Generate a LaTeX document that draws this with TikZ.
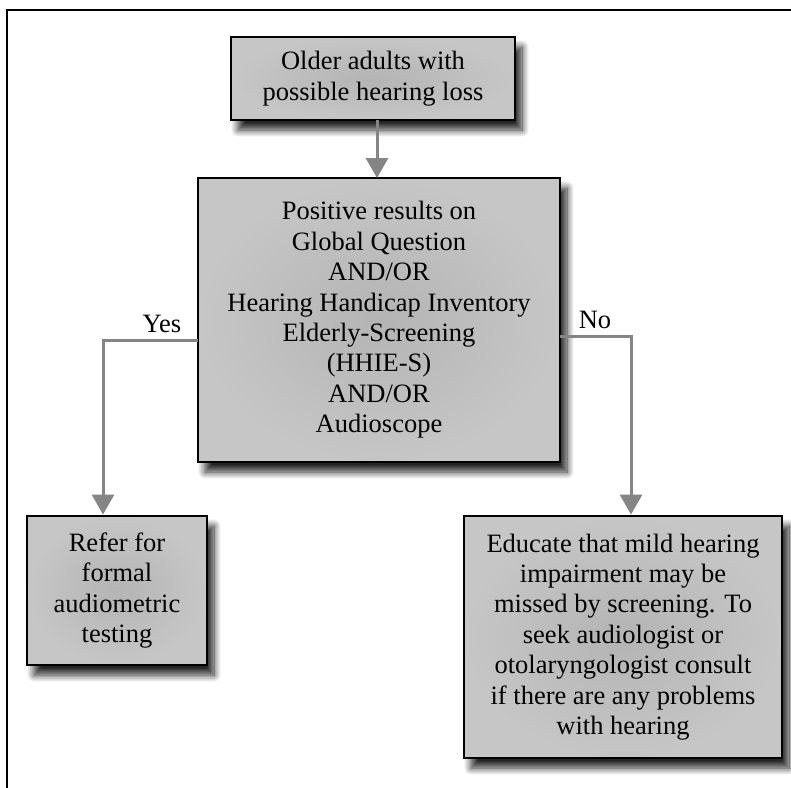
\documentclass[tikz,border=0pt]{standalone}
\usepackage{fontspec}
\setmainfont{Liberation Serif}
\usetikzlibrary{arrows.meta,shadows.blur}
\definecolor{boxgray}{HTML}{C0C0C0}
\definecolor{boxin}{HTML}{B4B4B4}
\definecolor{boxout}{HTML}{C6C6C6}
\definecolor{arrgray}{HTML}{858585}
\tikzset{
  box/.style={draw=black, line width=2.8pt, fill=boxgray, inner color=boxin, outer color=boxout,
    align=center, inner sep=0pt, font=\fontsize{26.5}{30.4}\selectfont,
    blur shadow={shadow xshift=7pt, shadow yshift=-10pt, shadow blur steps=12, shadow opacity=85, shadow blur radius=7pt}},
  conn/.style={draw=arrgray, line width=3pt, -{Triangle[width=22pt,length=20pt]}},
  lbl/.style={font=\fontsize{26.5}{30.4}\selectfont}
}
\begin{document}
\begin{tikzpicture}[x=1pt,y=-1pt]
\useasboundingbox (0,0) rectangle (791,787);
\begin{scope}
\clip (0,0) rectangle (791,787);
\draw[line width=2pt] (800,10) -- (7,10) -- (7,800);
\end{scope}
\node[box, minimum width=284pt, minimum height=83pt] (b1) at (373,78.5)
  {Older adults with\\possible hearing loss};
\node[box, minimum width=362pt, minimum height=284pt] (b2) at (379,320)
  {Positive results on\\Global Question\\AND/OR\\Hearing Handicap Inventory\\Elderly-Screening\\(HHIE-S)\\AND/OR\\Audioscope};
\node[box, minimum width=180pt, minimum height=149pt] (b3) at (117,590.5)
  {Refer for\\formal\\audiometric\\testing};
\node[box, minimum width=318pt, minimum height=242pt] (b4) at (623,637)
  {Educate that mild hearing\\impairment may be\\missed by screening. To\\seek audiologist or\\otolaryngologist consult\\if there are any problems\\with hearing};
\coordinate (ys) at (198,340);
\coordinate (yt) at (103,340);
\coordinate (ns) at (560,336);
\coordinate (nt) at (631,336);
\draw[conn] (377,120) -- (377,178);
\draw[conn] (ys) -- (yt) -- (yt |- b3.north);
\draw[conn] (ns) -- (nt) -- (nt |- b4.north);
\node[lbl] (yes) at (162,324) {Yes};
\node[lbl] (no) at (595,320) {No};
\end{tikzpicture}
\end{document}
